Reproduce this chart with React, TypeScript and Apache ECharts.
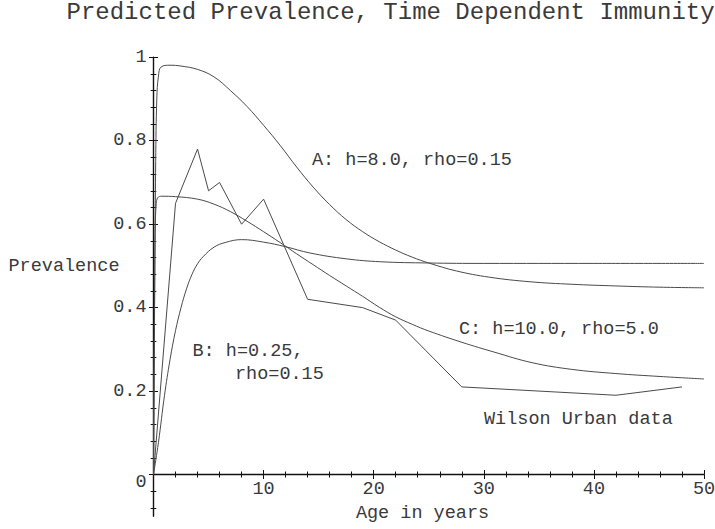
import React, { useEffect, useRef } from 'react';
import * as echarts from 'echarts';

// ---- Data ----
const ageA = [0, 0.1, 0.2, 0.3, 0.45, 0.7, 1.5, 2.5, 4, 5.5, 7, 8.5, 10, 11.5, 13, 14.5, 16, 17.5, 19, 20.5, 22, 23.5, 25, 27.5, 30.5, 34.2, 38, 42, 46, 50];
const prevA = [0, 0.4, 0.75, 0.9, 0.955, 0.977, 0.981, 0.979, 0.971, 0.953, 0.92, 0.882, 0.837, 0.789, 0.737, 0.689, 0.647, 0.611, 0.582, 0.558, 0.538, 0.521, 0.507, 0.488, 0.473, 0.462, 0.456, 0.452, 0.449, 0.4475];

const ageB = [0, 0.45, 1.0, 1.5, 2.0, 2.5, 3.0, 3.5, 4.0, 4.5, 5.5, 6.5, 8, 10, 12, 14.2, 17.5, 20.6, 25, 30, 40, 50];
const prevB = [0, 0.077, 0.19, 0.275, 0.345, 0.4, 0.445, 0.48, 0.505, 0.522, 0.545, 0.556, 0.563, 0.557, 0.546, 0.531, 0.517, 0.51, 0.507, 0.506, 0.506, 0.506];

const ageC = [0, 0.08, 0.15, 0.25, 0.4, 0.7, 2, 4, 5.5, 7, 8.5, 10, 11.5, 13, 14.5, 16, 17.5, 19, 20.5, 22, 23.5, 25, 28, 31, 34.4, 38, 42, 46, 50];
const prevC = [0, 0.35, 0.58, 0.65, 0.664, 0.667, 0.666, 0.66, 0.648, 0.63, 0.607, 0.582, 0.556, 0.529, 0.503, 0.477, 0.452, 0.427, 0.401, 0.378, 0.36, 0.344, 0.317, 0.293, 0.268, 0.252, 0.242, 0.235, 0.229];

const ageWilson = [0, 2, 4, 5, 6, 8, 10, 14, 19, 22, 28, 42, 48];
const prevWilson = [0, 0.65, 0.78, 0.68, 0.7, 0.6, 0.66, 0.42, 0.4, 0.37, 0.21, 0.19, 0.21];

// ---- Ticks ----
const xMajorTicks = [0, 10, 20, 30, 40, 50];
const xTickLabels = [10, 20, 30, 40, 50];
const xMinorTicks = [2, 4, 6, 8, 12, 14, 16, 18, 22, 24, 26, 28, 32, 34, 36, 38, 42, 44, 46, 48];
const yMajorTicks = [0, 0.2, 0.4, 0.6, 0.8, 1];
const yMinorTicks = [-0.08, -0.04, 0.04, 0.08, 0.12, 0.16, 0.24, 0.28, 0.32, 0.36, 0.44, 0.48, 0.52, 0.56, 0.64, 0.68, 0.72, 0.76, 0.84, 0.88, 0.92, 0.96];
const yMin = -0.1;
const yMax = 1;

const titleText = 'Predicted Prevalence, Time Dependent Immunity';
const xTitle = 'Age in years';
const yTitle = 'Prevalence';
const labelA = 'A: h=8.0, rho=0.15';
const labelB1 = 'B: h=0.25,';
const labelB2 = 'rho=0.15';
const labelC = 'C: h=10.0, rho=5.0';
const labelW = 'Wilson Urban data';

const FONT = '"Liberation Mono", "Courier New", monospace';
const TXT = '#3a3a3a';
const LINE = '#4a4a4a';
const AXIS = '#111';
const FS = 18.5;

const W = 715;
const H = 529;
const GRID = { left: 153.5, right: 11, top: 57.3, bottom: 12.75 };

const zip = (xs: number[], ys: number[]) => xs.map((x, i) => [x, ys[i]]);

export default function App() {
  const ref = useRef<HTMLDivElement>(null);
  useEffect(() => {
    document.body.style.margin = '0';
    const chart = echarts.init(ref.current!, null, { renderer: 'svg' });

    // place the x axis at y = 0 (the y range extends below zero)
    const gridH = H - GRID.top - GRID.bottom;
    const xOffset = -((0 - yMin) / (yMax - yMin)) * gridH;

    const xAx = (ticks: number[], inside: boolean, len: number, main: boolean) => ({
      type: 'value',
      min: 0,
      max: 50,
      position: 'bottom',
      offset: xOffset,
      splitLine: { show: false },
      axisLine: { show: main, onZero: false, lineStyle: { color: AXIS, width: 1.4 } },
      axisTick: { show: true, customValues: ticks, inside, length: len, lineStyle: { color: AXIS, width: 1 } },
      axisLabel: main
        ? {
            show: true,
            customValues: xTickLabels,
            margin: 5,
            color: TXT,
            fontFamily: FONT,
            fontSize: FS,
          }
        : { show: false },
    });
    const yAx = (ticks: number[], inside: boolean, len: number, main: boolean) => ({
      type: 'value',
      min: yMin,
      max: yMax,
      position: 'left',
      splitLine: { show: false },
      axisLine: { show: main, onZero: false, lineStyle: { color: AXIS, width: 1.4 } },
      axisTick: { show: true, customValues: ticks, inside, length: len, lineStyle: { color: AXIS, width: 1 } },
      axisLabel: main
        ? {
            show: true,
            customValues: yMajorTicks,
            margin: 7,
            color: TXT,
            fontFamily: FONT,
            fontSize: FS,
            formatter: (v: number) => (v === 0 ? '{z|0}' : v === 1 ? '1' : v.toFixed(1)),
            rich: { z: { padding: [16, 0, 0, 0], color: TXT, fontFamily: FONT, fontSize: FS } },
          }
        : { show: false },
    });

    const lineSeries = (name: string, data: number[][], smooth: boolean) => ({
      name,
      type: 'line',
      xAxisIndex: 0,
      yAxisIndex: 0,
      data,
      symbol: 'none',
      showSymbol: false,
      smooth: smooth ? 0.4 : false,
      lineStyle: { color: LINE, width: 1 },
      silent: true,
    });

    const txt = (text: string, x: number, y: number, size: number, align = 'left') => ({
      type: 'text',
      x,
      y,
      silent: true,
      style: { text, fill: TXT, fontFamily: FONT, fontSize: size, align, verticalAlign: 'middle' },
    });

    chart.setOption({
      animation: false,
      backgroundColor: '#fff',
      grid: { ...GRID, outerBoundsMode: 'none', containLabel: false },
      xAxis: [
        xAx(xMajorTicks, false, 4.5, true),
        xAx(xMajorTicks, true, 4.5, false),
        xAx(xMinorTicks, false, 3, false),
        xAx(xMinorTicks, true, 3, false),
      ],
      yAxis: [
        yAx(yMajorTicks, false, 4.5, true),
        yAx(yMajorTicks, true, 4.5, false),
        yAx(yMinorTicks, false, 2.8, false),
        yAx(yMinorTicks, true, 2.8, false),
      ],
      series: [
        lineSeries('A', zip(ageA, prevA), true),
        lineSeries('B', zip(ageB, prevB), true),
        lineSeries('C', zip(ageC, prevC), true),
        lineSeries('Wilson Urban data', zip(ageWilson, prevWilson), false),
      ],
      graphic: [
        txt(titleText, 66.5, 12.6, 24),
        txt(yTitle, 8.5, 266.8, FS),
        txt(xTitle, 422.5, 513.4, FS, 'center'),
        txt(labelA, 312, 160.7, FS),
        txt(labelB1, 192.5, 351.7, FS),
        txt(labelB2, 235, 374.3, FS),
        txt(labelC, 459, 329.3, FS),
        txt(labelW, 484, 419.3, FS),
      ],
    });
    return () => chart.dispose();
  }, []);
  return <div ref={ref} style={{ width: W, height: H }} />;
}
